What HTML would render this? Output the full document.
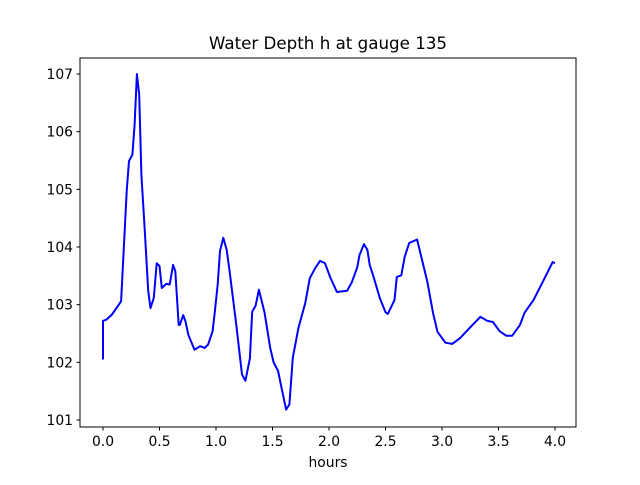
<!DOCTYPE html>
<html><head><meta charset="utf-8"><style>
body{margin:0;background:#fff}
svg text{font-family:"DejaVu Sans","Liberation Sans",sans-serif;fill:#000}
</style></head><body>
<svg id="chart" width="640" height="480" viewBox="0 0 640 480" xmlns="http://www.w3.org/2000/svg">
<rect width="640" height="480" fill="#fff"/>
<text x="328" y="49" font-size="16.7" text-anchor="middle">Water Depth h at gauge 135</text>
<g id="ticks"></g>
<path id="line" fill="none" stroke="#0000ff" stroke-width="2" stroke-linejoin="round"/>
<rect x="80" y="58" width="496" height="369" fill="none" stroke="#000" stroke-width="1"/>
<text x="328" y="467" font-size="13.9" text-anchor="middle">hours</text>
</svg>
<script>
const hours=[0,0,0.03,0.08,0.14,0.16,0.18,0.21,0.23,0.26,0.28,0.30,0.32,0.34,0.37,0.40,0.42,0.45,0.475,0.5,0.52,0.56,0.59,0.62,0.64,0.67,0.68,0.71,0.73,0.755,0.81,0.86,0.9,0.93,0.97,0.99,1.015,1.035,1.065,1.095,1.12,1.18,1.23,1.26,1.3,1.32,1.35,1.38,1.43,1.48,1.51,1.55,1.58,1.62,1.65,1.68,1.73,1.79,1.83,1.88,1.92,1.965,2.01,2.07,2.16,2.2,2.25,2.27,2.31,2.34,2.36,2.39,2.45,2.5,2.52,2.58,2.6,2.64,2.67,2.71,2.78,2.82,2.87,2.92,2.96,3.03,3.09,3.16,3.27,3.34,3.4,3.45,3.51,3.57,3.62,3.69,3.73,3.81,3.89,3.98,4.0];
const depth=[102.05,102.72,102.74,102.83,103.0,103.06,103.81,104.97,105.49,105.6,106.12,107.0,106.64,105.25,104.28,103.24,102.94,103.12,103.72,103.67,103.29,103.36,103.35,103.69,103.58,102.65,102.65,102.82,102.71,102.48,102.22,102.28,102.25,102.31,102.54,102.89,103.35,103.93,104.16,103.95,103.58,102.65,101.79,101.68,102.07,102.88,102.98,103.26,102.86,102.25,102.0,101.85,101.56,101.18,101.27,102.08,102.6,103.03,103.46,103.64,103.76,103.72,103.48,103.22,103.24,103.38,103.65,103.86,104.05,103.95,103.69,103.51,103.11,102.87,102.84,103.08,103.48,103.51,103.83,104.07,104.13,103.8,103.4,102.86,102.53,102.34,102.32,102.42,102.65,102.79,102.72,102.7,102.54,102.46,102.46,102.65,102.86,103.08,103.39,103.74,103.72];
const xTicks=[0,0.5,1,1.5,2,2.5,3,3.5,4];
const xTickLabels=["0.0","0.5","1.0","1.5","2.0","2.5","3.0","3.5","4.0"];
const yTicks=[101,102,103,104,105,106,107];
const yTickLabels=["101","102","103","104","105","106","107"];
const X=v=>103+v*113;
const Y=v=>74+(107-v)*57.67;
const NS="http://www.w3.org/2000/svg";
const g=document.getElementById('ticks');
function mk(t,a){const e=document.createElementNS(NS,t);for(const k in a)e.setAttribute(k,a[k]);g.appendChild(e);return e;}
xTicks.forEach((v,i)=>{
  const l=mk('line',{x1:X(v),x2:X(v),y1:427,y2:430.5,stroke:'#000'});
  
  
  const t=mk('text',{x:X(v),y:446,'font-size':13.9,'text-anchor':'middle'});
  t.textContent=xTickLabels[i];
  
  
});
yTicks.forEach((v,i)=>{
  const l=mk('line',{x1:76.5,x2:80,y1:Y(v),y2:Y(v),stroke:'#000'});
  
  
  const t=mk('text',{x:73,y:Y(v)+5,'font-size':13.9,'text-anchor':'end'});
  t.textContent=yTickLabels[i];
  
  
});
document.getElementById('line').setAttribute('d',hours.map((h,i)=>(i?'L':'M')+X(h).toFixed(1)+','+Y(depth[i]).toFixed(1)).join(''));
</script>
</body></html>
